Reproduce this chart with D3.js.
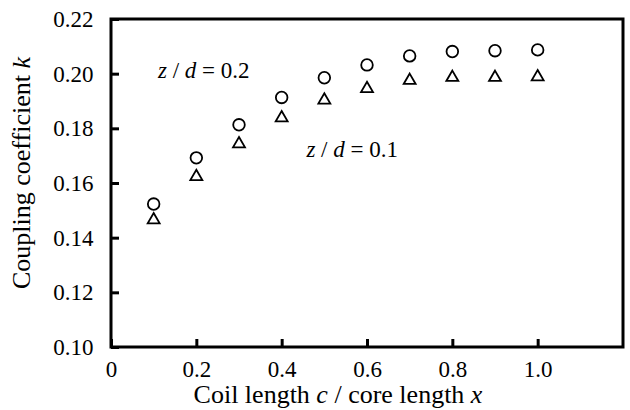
<!DOCTYPE html>
<html>
<head>
<meta charset="utf-8">
<script src="https://cdn.jsdelivr.net/npm/d3@7"></script>
<style>
	body { margin: 0; background: #fff; }
	text { font-family: "Liberation Serif", "Times New Roman", serif; fill: #000; }
</style>
</head>
<body>
<svg id="chart" width="630" height="410"></svg>
<script>
// Data
const coilRatio = [0.1, 0.2, 0.3, 0.4, 0.5, 0.6, 0.7, 0.8, 0.9, 1.0];
const kHigh = [0.1523, 0.1692, 0.1813, 0.1913, 0.1985, 0.2032, 0.2065, 0.2081, 0.2084, 0.2087]; // z/d = 0.2
const kLow = [0.1465, 0.1623, 0.1743, 0.1838, 0.1903, 0.1945, 0.1975, 0.1986, 0.1986, 0.1988]; // z/d = 0.1
const xTicks = [0, 0.2, 0.4, 0.6, 0.8, 1.0];
const yTicks = [0.10, 0.12, 0.14, 0.16, 0.18, 0.20, 0.22];

const svg = d3.select("#chart");
const margin = { top: 19, right: 7, bottom: 63, left: 111 };
const width = +svg.attr("width") - margin.left - margin.right;
const height = +svg.attr("height") - margin.top - margin.bottom;

const x = d3.scaleLinear().domain([0, 1.2]).range([0, width]);
const y = d3.scaleLinear().domain([0.10, 0.22]).range([height, 0]);

const g = svg.append("g").attr("transform", `translate(${margin.left},${margin.top})`);

// Axes (inward ticks)
const xAxis = g.append("g")
	.attr("transform", `translate(0,${height})`)
	.call(d3.axisBottom(x).tickValues(xTicks).tickSize(-8).tickPadding(14)
		.tickFormat((d) => (d === 0 ? "0" : d3.format(".1f")(d))));
const yAxis = g.append("g")
	.call(d3.axisLeft(y).tickValues(yTicks).tickSize(-8).tickPadding(17.5)
		.tickFormat(d3.format(".2f")));

[xAxis, yAxis].forEach((a) => {
	a.select(".domain").remove();
	a.selectAll(".tick line").attr("stroke", "#000").attr("stroke-width", 3);
	a.selectAll(".tick text").style("font-size", "23px").attr("fill", "#000");
});
yAxis.selectAll(".tick text").attr("dy", "0.32em");

// Frame
g.append("rect")
	.attr("width", width)
	.attr("height", height)
	.attr("fill", "none")
	.attr("stroke", "#000")
	.attr("stroke-width", 3);

// Markers
g.append("g")
	.selectAll("circle")
	.data(coilRatio)
	.join("circle")
	.attr("cx", (d) => x(d))
	.attr("cy", (d, i) => y(kHigh[i]))
	.attr("r", 5.8)
	.attr("fill", "none")
	.attr("stroke", "#000")
	.attr("stroke-width", 1.8);

const tri = d3.symbol().type(d3.symbolTriangle).size(62);
g.append("g")
	.selectAll("path")
	.data(coilRatio)
	.join("path")
	.attr("d", tri)
	.attr("transform", (d, i) => `translate(${x(d)},${y(kLow[i])})`)
	.attr("fill", "none")
	.attr("stroke", "#000")
	.attr("stroke-width", 1.8)
	.attr("stroke-linejoin", "miter");

// Series labels
function seriesLabel(xv, yv, val) {
	const t = g.append("text")
		.attr("x", x(xv))
		.attr("y", y(yv))
		.style("font-size", "23px");
	t.append("tspan").style("font-style", "italic").text("z");
	t.append("tspan").text(" / ");
	t.append("tspan").style("font-style", "italic").text("d");
	t.append("tspan").text(` = ${val}`);
}
seriesLabel(0.11, 0.1984, "0.2");
seriesLabel(0.458, 0.1696, "0.1");

// Axis titles
const xt = svg.append("text")
	.attr("x", 338)
	.attr("y", 403)
	.attr("text-anchor", "middle")
	.style("font-size", "26px");
xt.append("tspan").text("Coil length ");
xt.append("tspan").style("font-style", "italic").text("c");
xt.append("tspan").text(" / core length ");
xt.append("tspan").style("font-style", "italic").text("x");

const yt = svg.append("text")
	.attr("transform", "translate(30,173) rotate(-90)")
	.attr("text-anchor", "middle")
	.style("font-size", "26px");
yt.append("tspan").text("Coupling coefficient ");
yt.append("tspan").style("font-style", "italic").text("k");
</script>
</body>
</html>
